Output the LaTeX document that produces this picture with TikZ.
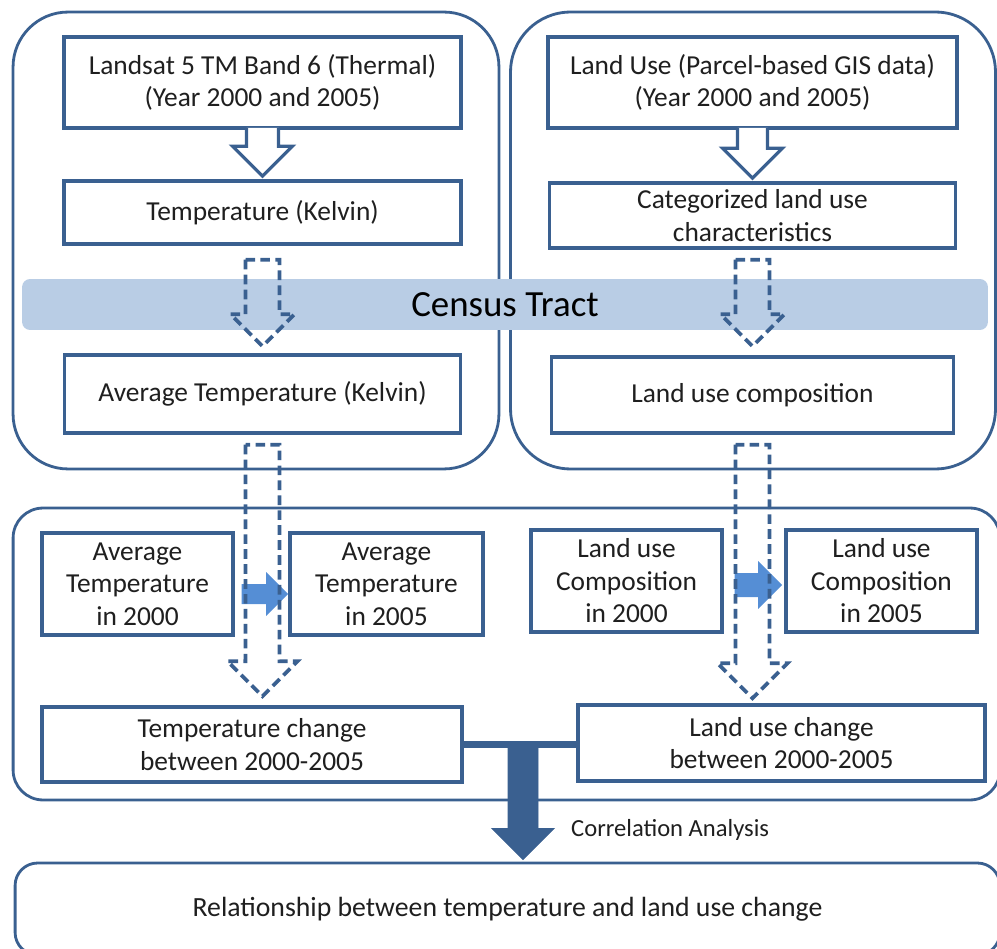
\documentclass[tikz,border=0pt]{standalone}
\usepackage{fontspec}
\setmainfont{Carlito}
\usepackage{xcolor}
\usepackage{tikz}
\usetikzlibrary{positioning, calc}

\definecolor{frameblue}{HTML}{3A6090}
\definecolor{bandblue}{HTML}{B9CDE5}
\definecolor{arrowblue}{HTML}{558ED5}

% block arrows: style, from, to, shaft half width, head half width
\newcommand{\downblock}[5]{%
  \draw[#1] let \p1=(#2), \p2=(#3) in
    (\x1-#4,\y1) -- (\x1-#4,\y2+#5) -- (\x1-#5,\y2+#5) -- (\x1,\y2)
    -- (\x1+#5,\y2+#5) -- (\x1+#4,\y2+#5) -- (\x1+#4,\y1) -- cycle;}
\newcommand{\openblock}[5]{% same, but open at the top
  \draw[#1] let \p1=(#2), \p2=(#3) in
    (\x1-#4,\y1+1pt) -- (\x1-#4,\y2+#5) -- (\x1-#5,\y2+#5) -- (\x1,\y2)
    -- (\x1+#5,\y2+#5) -- (\x1+#4,\y2+#5) -- (\x1+#4,\y1+1pt);}
\newcommand{\rightblock}[5]{%
  \fill[#1] let \p1=(#2), \p2=(#3) in
    (\x1,\y1-#4) -- (\x2-#5,\y1-#4) -- (\x2-#5,\y1-#5) -- (\x2,\y1)
    -- (\x2-#5,\y1+#5) -- (\x2-#5,\y1+#4) -- (\x1,\y1+#4) -- cycle;}

\begin{document}
\begin{tikzpicture}[x=0.02cm, y=-0.02cm, node distance=2.6cm,
    box/.style={rectangle, draw=frameblue, line width=2pt, fill=white, align=center,
      inner sep=1pt, text=black!88, font=\fontsize{15.6}{18.5}\selectfont},
    panel/.style={rectangle, draw=frameblue, line width=1.6pt},
    hollow/.style={draw=frameblue, line width=1.8pt, fill=white},
    dashedarrow/.style={draw=frameblue, line width=2.1pt, dash pattern=on 5.5pt off 3pt},
    flowarrow/.style={fill=arrowblue},
    bigarrow/.style={draw=frameblue, fill=frameblue, line width=0.5pt},
    link/.style={draw=frameblue, line width=4.5pt}]
    \useasboundingbox (0,0) rectangle (997,949);
    \clip (0,0) rectangle (997,949);

    \node (leftpanel) [panel, rounded corners=1.1cm, minimum width=9.72cm, minimum height=9.14cm] at (256,240.5) {};
    \node (rightpanel) [panel, rounded corners=1.2cm, minimum width=9.7cm, minimum height=9.14cm] at (753,240.5) {};
    \node (lowerpanel) [panel, rounded corners=0.6cm, minimum width=19.74cm, minimum height=5.84cm] at (506.5,654) {};
    \node (result) [panel, rounded corners=0.45cm, minimum width=19.7cm, minimum height=1.84cm,
      text=black!88, font=\fontsize{15.8}{18.5}\selectfont] at (507.5,909) {Relationship between temperature and land use change};

    \node (band) [rectangle, fill=bandblue, rounded corners=0.16cm, minimum width=19.32cm, minimum height=1.02cm,
      text=black, font=\fontsize{21}{25}\selectfont] at (505,304.5) {Census Tract};

    \node (landsat) [box, minimum width=7.94cm, minimum height=1.82cm] at (262.5,82.5) {Landsat 5 TM Band 6 (Thermal)\\(Year 2000 and 2005)};
    \node (kelvin) [box, minimum width=7.94cm, minimum height=1.26cm, below of=landsat] {Temperature (Kelvin)};
    \node (avgkelvin) [box, minimum width=7.92cm, minimum height=1.56cm, node distance=3.63cm, below of=kelvin] {Average Temperature (Kelvin)};

    \node (landuse) [box, minimum width=8.18cm, minimum height=1.82cm] at (752.5,82.5) {Land Use (Parcel-based GIS data)\\(Year 2000 and 2005)};
    \node (category) [box, minimum width=8.12cm, minimum height=1.3cm, node distance=2.66cm, below of=landuse] {Categorized land use\\characteristics};
    \node (composition) [box, minimum width=8.04cm, minimum height=1.52cm, node distance=3.59cm, below of=category] {Land use composition};

    \node (avg2000) [box, minimum width=3.82cm, minimum height=2.04cm] at (137.5,584) {Average\\Temperature\\in 2000};
    \node (avg2005) [box, minimum width=3.86cm, minimum height=2.04cm, node distance=4.98cm, right of=avg2000] {Average\\Temperature\\in 2005};
    \node (comp2000) [box, minimum width=3.82cm, minimum height=2.04cm] at (626.5,581) {Land use\\Composition\\in 2000};
    \node (comp2005) [box, minimum width=3.82cm, minimum height=2.04cm, node distance=5.1cm, right of=comp2000] {Land use\\Composition\\in 2005};

    \node (tempchange) [box, minimum width=8.4cm, minimum height=1.5cm] at (252,744.5) {Temperature change\\between 2000-2005};
    \node (landchange) [box, minimum width=8.14cm, minimum height=1.52cm] at (781.5,743) {Land use change\\between 2000-2005};

    \draw[link] (tempchange.east) -- (tempchange.east -| landchange.west);

    \rightblock{flowarrow}{$(avg2000.east)+(7,10)$}{$(avg2005.west)+(0,10)$}{0.2cm}{0.44cm}
    \rightblock{flowarrow}{$(comp2000.east)+(11,4)$}{$(comp2005.west)+(-2,4)$}{0.24cm}{0.48cm}

    \openblock{hollow}{landsat.south}{$(kelvin.north)+(0,-3)$}{0.32cm}{0.6cm}
    \openblock{hollow}{landuse.south}{$(category.north)+(0,-3)$}{0.3cm}{0.6cm}

    \downblock{dashedarrow}{$(kelvin.south)+(0,14)$}{$(avgkelvin.north)+(0,-7)$}{0.34cm}{0.64cm}
    \downblock{dashedarrow}{$(category.south)+(0,10)$}{$(composition.north)+(0,-9)$}{0.34cm}{0.64cm}
    \downblock{dashedarrow}{$(avgkelvin.south)+(0,10)$}{$(tempchange.north)+(0,-9)$}{0.34cm}{0.7cm}
    \downblock{dashedarrow}{$(composition.south)+(0,10)$}{$(landchange.north)+(0,-5)$}{0.34cm}{0.7cm}

    \coordinate (corrtop) at ($(tempchange.east)!0.5!(landchange.west)+(3,0)$);
    \coordinate (corrtip) at ($(corrtop |- result.north)+(0,-2)$);
    \downblock{bigarrow}{corrtop}{corrtip}{0.3cm}{0.62cm}
    \node (corrlabel) [anchor=west, text=black!88, font=\fontsize{14}{17}\selectfont] at (565,830) {Correlation Analysis};
\end{tikzpicture}
\end{document}
